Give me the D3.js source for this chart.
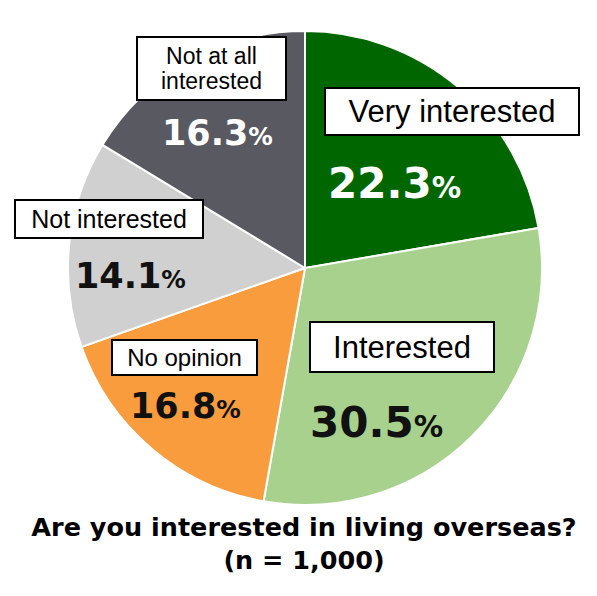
<!DOCTYPE html>
<html><head><meta charset="utf-8">
<script src="https://cdn.jsdelivr.net/npm/d3@7"></script>
<style>body{margin:0;background:#fff}</style></head>
<body><svg id="c" width="597" height="596"></svg>
<script>
const categories=["Very interested","Interested","No opinion","Not interested","Not at all interested"];
const values=[22.3,30.5,16.8,14.1,16.3];
const colors=["#006600","#a9d18e","#f89c3e","#d0d0d0","#595961"];
const labelLines=[["Very interested"],["Interested"],["No opinion"],["Not interested"],["Not at all","interested"]];
const pctColors=["#fff","#111","#111","#111","#fff"];
const layout=[
 {box:[325,88,254,47],fs:31,px:328,py:198,ps:42},
 {box:[310,322,184,50],fs:31,px:310,py:437,ps:42},
 {box:[112,340,145,35],fs:24,px:130,py:418,ps:35},
 {box:[15,200,188,38],fs:25,px:75,py:288,ps:35},
 {box:[137,37,149,63],fs:23,px:162,py:145,ps:35}
];
const svg=d3.select("#c");
const cx=305,cy=268,r=237;
const pie=d3.pie().sort(null).value(d=>d);
const arc=d3.arc().innerRadius(0).outerRadius(r);
const g=svg.append("g").attr("transform",`translate(${cx},${cy})`);
g.selectAll("path").data(pie(values)).join("path").attr("d",arc)
 .attr("fill",(d,i)=>colors[i]).attr("stroke","#fff").attr("stroke-width",2);
layout.forEach((L,i)=>{
 const [x,y,w,h]=L.box;
 svg.append("rect").attr("x",x).attr("y",y).attr("width",w).attr("height",h)
  .attr("fill","#fff").attr("stroke","#000").attr("stroke-width",2);
 const lines=labelLines[i];
 const lh=L.fs*1.08;
 lines.forEach((t,j)=>{
  svg.append("text").attr("x",x+w/2).attr("y",y+h/2+(j-(lines.length-1)/2)*lh)
   .attr("dy","0.35em").attr("text-anchor","middle")
   .attr("font-family","Liberation Sans, Arial, sans-serif").attr("font-size",L.fs).attr("fill","#000").text(t);
 });
 const s=values[i].toFixed(1);
 const t=svg.append("text").attr("x",L.px).attr("y",L.py).attr("fill",pctColors[i])
  .attr("font-family","DejaVu Sans, Verdana, sans-serif").attr("font-weight","bold");
 t.append("tspan").attr("font-size",L.ps).text(s);
 t.append("tspan").attr("font-size",L.ps*0.7).text("%");
});
const title=["Are you interested in living overseas?","(n = 1,000)"];
title.forEach((t,j)=>svg.append("text").attr("x",304).attr("y",536+j*33).attr("text-anchor","middle")
 .attr("font-family","DejaVu Sans, Verdana, sans-serif").attr("font-weight","bold").attr("font-size",25.5).attr("fill","#000").text(t));
</script></body></html>
